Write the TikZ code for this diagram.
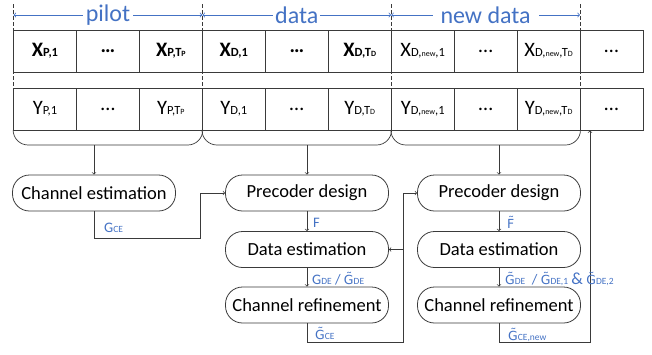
\documentclass[tikz,border=0pt]{standalone}
\usepackage{fontspec}
\setmainfont{Carlito}
\newfontfamily\accfont{DejaVu Sans}
\usetikzlibrary{positioning}
\usetikzlibrary{calc}
\usetikzlibrary{arrows}
\definecolor{lblblue}{HTML}{4472C4}
\definecolor{edgegray}{HTML}{3A3A3A}
\newcommand{\csub}[1]{{\fontsize{12.5}{13}\selectfont #1}}
\newcommand{\csubsub}[1]{{\fontsize{8}{9}\selectfont #1}}
\newcommand{\lsub}[1]{{\fontsize{9.5}{10}\selectfont #1}}
\newcommand{\tG}{{\accfont\fontsize{12.5}{14}\selectfont G̃}}
\newcommand{\tF}{{\accfont\fontsize{12.5}{14}\selectfont F̃}}

\begin{document}
\begin{tikzpicture}[x=1pt, y=-1pt,
    cell/.style={
        draw=edgegray, line width=0.8pt,
        minimum width=62.95pt, minimum height=42pt,
        inner sep=0pt,
        font=\fontsize{20.5}{22}\selectfont
    },
    proc/.style={draw=edgegray, line width=0.8pt, rounded corners=17pt,
        minimum width=163pt, minimum height=36pt, inner sep=0pt,
        font=\fontsize{18.5}{20}\selectfont},
    lbl/.style={lblblue, inner sep=0pt, anchor=base west, font=\fontsize{14.5}{16}\selectfont},
    span/.style={<->, lblblue, line width=0.8pt},
    sep/.style={edgegray, line width=0.6pt, dash pattern=on 3.5pt off 2.5pt},
    brace/.style={edgegray, line width=0.7pt, rounded corners=15pt},
    flow/.style={->, edgegray, line width=0.7pt}
]
\useasboundingbox (0,0) rectangle (652,354);

% sections
\coordinate (s0) at (13.5,4);
\coordinate (s1) at (202.4,4);
\coordinate (s2) at (391.2,4);
\coordinate (s3) at (580,4);
\draw[sep] (s0) -- ++(0,126);
\draw[sep] (s1) -- ++(0,126);
\draw[sep] (s2) -- ++(0,126);
\draw[sep] (s3) -- ++(0,126);

\draw[span] ($(s0)+(0,11)$) -- node[fill=white, inner ysep=0pt, inner xsep=2.5pt, font=\fontsize{24}{26}\selectfont] (pilot) {pilot} ($(s1)+(0,11)$);
\draw[span] ($(s1)+(0,11)$) -- node[fill=white, inner ysep=0pt, inner xsep=2pt, font=\fontsize{24}{26}\selectfont] (data) {data} ($(s2)+(0,11)$);
\draw[span] ($(s2)+(0,11)$) -- node[fill=white, inner ysep=0pt, inner xsep=8pt, font=\fontsize{24}{26}\selectfont] (newdata) {new data} ($(s3)+(0,11)$);

% transmitted symbols
\node[cell] (x1) at (45,51) {\textbf{X\csub{P,1}}};
\node[cell] (x2) at (107.9,51) {\textbf{…}};
\node[cell] (x3) at (170.9,51) {\textbf{X\csub{P,T\csubsub{P}}}};
\node[cell] (x4) at (233.8,51) {\textbf{X\csub{D,1}}};
\node[cell] (x5) at (296.8,51) {\textbf{…}};
\node[cell] (x6) at (359.7,51) {\textbf{X\csub{D,T\csubsub{D}}}};
\node[cell] (x7) at (422.7,51) {X\csub{D,\csubsub{new},1}};
\node[cell] (x8) at (485.6,51) {…};
\node[cell] (x9) at (548.6,51) {X\csub{D,\csubsub{new},T\csubsub{D}}};
\node[cell] (x10) at (611.5,51) {…};

% received symbols
\node[cell] (y1) at (45,109) {Y\csub{P,1}};
\node[cell] (y2) at (107.9,109) {…};
\node[cell] (y3) at (170.9,109) {Y\csub{P,T\csubsub{P}}};
\node[cell] (y4) at (233.8,109) {Y\csub{D,1}};
\node[cell] (y5) at (296.8,109) {…};
\node[cell] (y6) at (359.7,109) {Y\csub{D,T\csubsub{D}}};
\node[cell] (y7) at (422.7,109) {Y\csub{D,\csubsub{new},1}};
\node[cell] (y8) at (485.6,109) {…};
\node[cell] (y9) at (548.6,109) {Y\csub{D,\csubsub{new},T\csubsub{D}}};
\node[cell] (y10) at (611.5,109) {…};

\coordinate (b1) at (108,145);
\coordinate (b2) at (296.8,145);
\coordinate (b3) at (485.6,145);
\draw[brace] (y1.south west) |- (b1) -| (y3.south east);
\draw[brace] (y4.south west) |- (b2) -| (y6.south east);
\draw[brace] (y7.south west) |- (b3) -| (y9.south east);

% processing blocks
\node[proc] (ce) at (94,193) {Channel estimation};
\node[proc] (pd1) at (307,193) {Precoder design};
\node[proc] (de1) at (307,249.5) {Data estimation};
\node[proc] (cr1) at (307,305) {Channel refinement};
\node[proc] (pd2) at (499,193) {Precoder design};
\node[proc] (de2) at (499,249.5) {Data estimation};
\node[proc] (cr2) at (499,305) {Channel refinement};

\draw[flow] (b1 -| ce.north) -- (ce.north);
\draw[flow] (b2 -| pd1.north) -- (pd1.north);
\draw[flow] (b3 -| pd2.north) -- (pd2.north);

\draw[flow] (pd1.south) -- (de1.north);
\draw[flow] (de1.south) -- (cr1.north);
\draw[flow] (pd2.south) -- (de2.north);
\draw[flow] (de2.south) -- (cr2.north);

\coordinate (k1) at (200,238);
\coordinate (k2) at (403,342);
\coordinate (k3) at (590,342);
\draw[flow] (ce.south) |- (k1) |- (pd1.west);
\draw[flow] (cr1.south) |- (k2) |- (pd2.west);
\draw[flow] (k2 |- de1.east) -- (de1.east);
\draw[flow] (cr2.south) |- (k3) -- (k3 |- y10.south);

% labels
\node[lbl] (gce) at (104,232) {G\lsub{CE}};
\node[lbl] (f1) at (313,227) {F};
\node[lbl] (gde1) at (312,284) {G\lsub{DE} / \tG\lsub{DE}};
\node[lbl] (gce1) at (315,339) {\tG\lsub{CE}};
\node[lbl] (f2) at (507,228) {\tF};
\node[lbl] (gde2) at (505,284) {\tG\lsub{DE}\ \ / \tG\lsub{DE,1} {\fontsize{17}{18}\selectfont\&} \tG\lsub{DE,2}};
\node[lbl] (gce2) at (508,340) {\tG\lsub{CE,new}};
\end{tikzpicture}
\end{document}
